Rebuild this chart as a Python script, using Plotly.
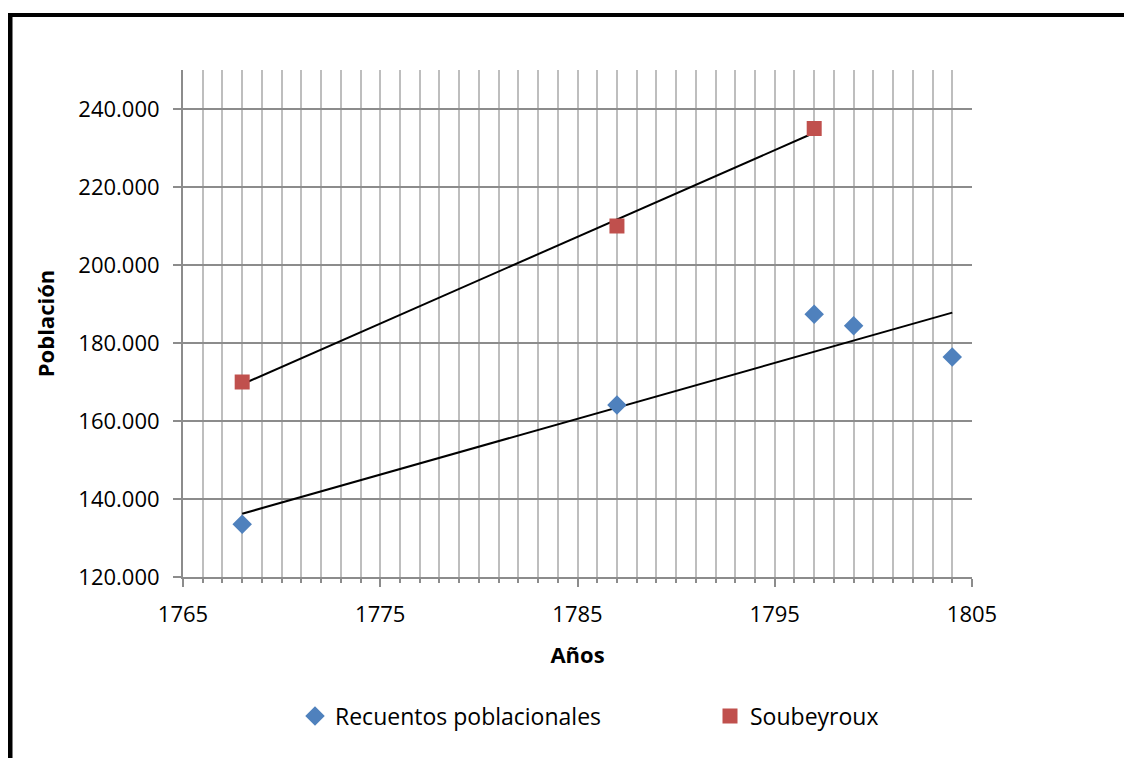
import numpy as np
import plotly.graph_objects as go

# ---- data ----
recuentos_years = [1768, 1787, 1797, 1799, 1804]
recuentos_pop = [133500, 164100, 187400, 184400, 176400]
soubeyroux_years = [1768, 1787, 1797]
soubeyroux_pop = [170000, 210000, 235000]
x_ticks = [1765, 1775, 1785, 1795, 1805]
y_ticks = [120000, 140000, 160000, 180000, 200000, 220000, 240000]

# page is 1132x758, browser body adds an 8px offset
OFF = 8
W, H = 1132 - OFF, 758 - OFF
L, T = 183 - OFF, 70 - OFF
R = 1132 - 972
B = 758 - 577
pw, ph = W - L - R, H - T - B

FONT = "Open Sans"

def px2paper_x(page_px):
    return (page_px - OFF - L) / pw

def px2paper_y(page_py):
    return (H - B - (page_py - OFF)) / ph

fig = go.Figure()

def trend(xs, ys):
    m, b = np.polyfit(xs, ys, 1)
    xx = [min(xs), max(xs)]
    return xx, [m * v + b for v in xx]

for xs, ys in [(recuentos_years, recuentos_pop), (soubeyroux_years, soubeyroux_pop)]:
    tx, ty = trend(xs, ys)
    fig.add_trace(go.Scatter(x=tx, y=ty, mode="lines", line=dict(color="black", width=2),
                             showlegend=False, hoverinfo="skip"))

fig.add_trace(go.Scatter(x=recuentos_years, y=recuentos_pop, mode="markers",
                         name="Recuentos poblacionales", legend="legend",
                         marker=dict(symbol="diamond", size=15, color="#4F81BD")))
fig.add_trace(go.Scatter(x=soubeyroux_years, y=soubeyroux_pop, mode="markers",
                         name="Soubeyroux", legend="legend2",
                         marker=dict(symbol="square", size=15, color="#C0504D")))

grid_v = "#BEBEBE"
grid_h = "#8C8C8C"

fig.update_xaxes(
    range=[1765, 1805], tickvals=x_ticks, tickformat="d",
    showgrid=True, gridcolor=grid_v, gridwidth=2,
    showline=True, linecolor=grid_h, linewidth=2,
    ticks="outside", ticklen=8, tickwidth=2, tickcolor=grid_h,
    ticklabelstandoff=9,
    minor=dict(dtick=1, showgrid=True, gridcolor=grid_v, gridwidth=2,
               ticks="outside", ticklen=4, tickwidth=2, tickcolor=grid_h),
    tickfont=dict(family=FONT, size=22, color="black"),
    title=dict(text="<b>Años</b>", font=dict(family=FONT, size=22, color="black"), standoff=20),
    zeroline=False, mirror=False,
)
fig.update_yaxes(
    range=[120000, 250000], tickvals=y_ticks, tickformat=",d",
    showgrid=True, gridcolor=grid_h, gridwidth=2,
    showline=True, linecolor=grid_h, linewidth=2,
    ticks="outside", ticklen=8, tickwidth=2, tickcolor=grid_h,
    ticklabelstandoff=9,
    tickfont=dict(family=FONT, size=22, color="black"),
    title=dict(text="<b>Población</b>", font=dict(family=FONT, size=22, color="black"), standoff=18),
    zeroline=False,
)

legend_common = dict(orientation="h", xanchor="left", yanchor="middle",
                     y=px2paper_y(716),
                     font=dict(family=FONT, size=23, color="black"),
                     bgcolor="rgba(0,0,0,0)", itemsizing="trace")

fig.update_layout(
    width=W, height=H,
    margin=dict(l=L, r=R, t=T, b=B, autoexpand=False),
    paper_bgcolor="white", plot_bgcolor="white",
    separators=",.",
    font=dict(family=FONT, size=22, color="black"),
    legend=dict(x=px2paper_x(295), **legend_common),
    legend2=dict(x=px2paper_x(710), **legend_common),
    shapes=[
        dict(type="line", xref="paper", yref="paper",
             x0=px2paper_x(8), x1=px2paper_x(1140), y0=px2paper_y(15), y1=px2paper_y(15),
             line=dict(color="black", width=4)),
        dict(type="line", xref="paper", yref="paper",
             x0=px2paper_x(10), x1=px2paper_x(10), y0=px2paper_y(13), y1=px2paper_y(770),
             line=dict(color="black", width=5)),
    ],
)

fig.write_html("out.html")
